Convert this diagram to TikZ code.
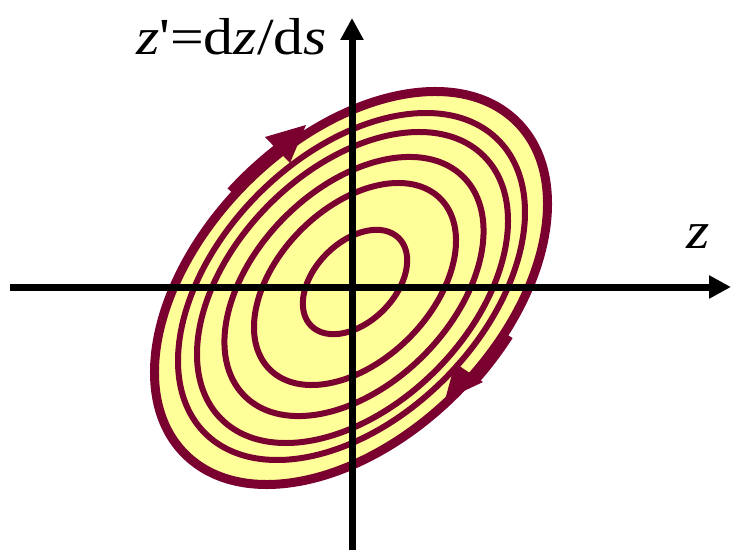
\documentclass[tikz,border=0pt]{standalone}
\usepackage{fontspec}
\newfontfamily\lab{Liberation Serif}[FakeStretch=1.15]
\usetikzlibrary{arrows.meta}
\definecolor{ringc}{RGB}{122,0,48}
\definecolor{fillc}{RGB}{255,255,153}
\begin{document}
\begin{tikzpicture}[x=1pt,y=1pt,
  ring/.style={draw=ringc, line width=6pt},
  outerring/.style={draw=ringc, fill=fillc, line width=9pt},
  shaft/.style={draw=ringc, line width=12pt},
  head/.style={fill=ringc},
  axis/.style={draw=black, line width=7pt, -{Triangle[length=22pt,width=22pt]}},
  lbl/.style={font=\lab\fontsize{52}{62}\selectfont, inner sep=0pt, anchor=base west}]
\useasboundingbox (0,0) rectangle (731,550);
% rings (centre, rotation 45 deg)
\draw[outerring, rotate around={45:(351,262)}] (351,262) ellipse [x radius=234.8, y radius=148.6];
\draw[ring, rotate around={45:(351.5,263.5)}] (351.5,263.5) ellipse [x radius=207.3, y radius=131.2];
\draw[ring, rotate around={45:(352.5,262.5)}] (352.5,262.5) ellipse [x radius=185.8, y radius=117.6];
\draw[ring, rotate around={45:(354,263.5)}] (354,263.5) ellipse [x radius=154.8, y radius=98];
\draw[ring, rotate around={45:(355,266)}] (355,266) ellipse [x radius=120.7, y radius=76.4];
\draw[ring, rotate around={45:(355,268)}] (355,268) ellipse [x radius=62, y radius=40];
% direction arrows on the outer ring
\draw[shaft, rotate around={45:(351,262)}] (351,262) ++(94:238.3 and 152.1) arc[start angle=94, end angle=77, x radius=238.3, y radius=152.1];
\fill[head] (306,425) -- (265,413) -- (290,387) -- cycle;
\draw[shaft, rotate around={45:(351,262)}] (351,262) ++(-71:238.3 and 152.1) arc[start angle=-71, end angle=-85, x radius=238.3, y radius=152.1];
\fill[head] (445,150) -- (455,187) -- (483,168) -- cycle;
% axes
\coordinate (xs) at (10,263);
\coordinate (xe) at (731,263);
\coordinate (ys) at (352,0);
\coordinate (ye) at (352,532);
\draw[axis] (xs) -- (xe);
\draw[axis] (ys) -- (ye);
% labels
\node[lbl] (ylab) at (136,495) {\itshape z\upshape'=d\itshape z\upshape/d\itshape s};
\node[lbl] (xlab) at (686,302) {\itshape z};
\end{tikzpicture}
\end{document}
